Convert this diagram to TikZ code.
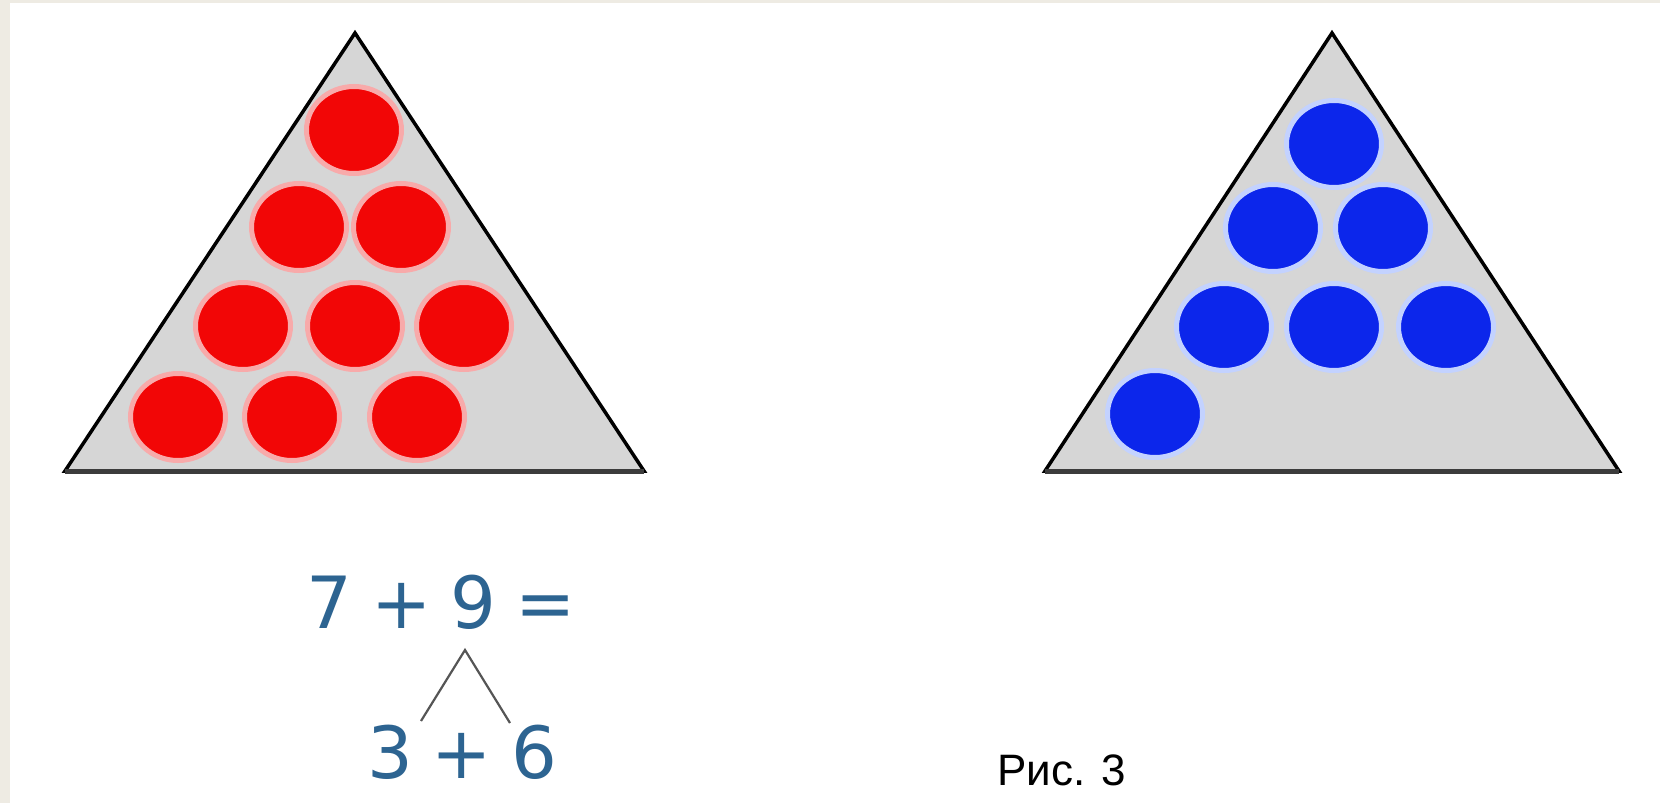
\documentclass[tikz,border=0pt]{standalone}
\usepackage{fontspec}
\setmainfont{Liberation Sans}
\newfontfamily\eqfont{DejaVu Sans}
\definecolor{beige}{RGB}{238,235,227}
\definecolor{trifill}{RGB}{214,214,214}
\definecolor{basecol}{RGB}{60,60,60}
\definecolor{redball}{RGB}{242,6,6}
\definecolor{redhalo}{RGB}{248,170,170}
\definecolor{blueball}{RGB}{12,38,235}
\definecolor{bluehalo}{RGB}{195,210,255}
\definecolor{eqcol}{RGB}{45,100,145}
\definecolor{splitcol}{RGB}{85,85,85}
\newcommand{\eqgap}{\hspace{19pt}}
\tikzset{
  tri/.style={fill=trifill, draw=black, line width=3.5pt, line join=miter},
  basel/.style={draw=basecol, line width=5pt},
  ballbase/.style={ellipse, minimum width=95pt, minimum height=87pt, inner sep=0pt, line width=5pt},
  redb/.style={ballbase, fill=redball, draw=redhalo},
  blueb/.style={ballbase, fill=blueball, draw=bluehalo},
  eqtext/.style={anchor=base, inner sep=0pt, text=eqcol, font=\eqfont\fontsize{72}{84}\selectfont},
  splitline/.style={draw=splitcol, line width=2.2pt},
  caption/.style={anchor=base west, inner sep=0pt, font=\fontsize{44}{53}\selectfont}
}
\usetikzlibrary{shapes.geometric}
\begin{document}
\begin{tikzpicture}[x=1pt, y=-1pt]
\useasboundingbox (0,0) rectangle (1660,803);
\fill[white] (0,0) rectangle (1660,803);
\fill[beige] (0,0) rectangle (10,803);
\fill[beige] (0,0) rectangle (1660,2.5);
% left triangle
\coordinate (LA) at (355,33);
\coordinate (LL) at (65,471);
\coordinate (LR) at (644,471);
\draw[tri] (LA) -- (LR) -- (LL) -- cycle;
\draw[basel] (LL) -- (LR);
% right triangle
\coordinate (RA) at (1332,33);
\coordinate (RL) at (1045,471);
\coordinate (RR) at (1619,471);
\draw[tri] (RA) -- (RR) -- (RL) -- cycle;
\draw[basel] (RL) -- (RR);
% red balls
\node[redb] (r1) at (354,130) {};
\node[redb] (r2) at (299,227) {};
\node[redb] (r3) at (401,227) {};
\node[redb] (r4) at (243,326) {};
\node[redb] (r5) at (355,326) {};
\node[redb] (r6) at (464,326) {};
\node[redb] (r7) at (178,417) {};
\node[redb] (r8) at (292,417) {};
\node[redb] (r9) at (417,417) {};
% blue balls
\node[blueb] (b1) at (1334,144) {};
\node[blueb] (b2) at (1273,228) {};
\node[blueb] (b3) at (1383,228) {};
\node[blueb] (b4) at (1224,327) {};
\node[blueb] (b5) at (1334,327) {};
\node[blueb] (b6) at (1446,327) {};
\node[blueb] (b7) at (1155,414) {};
% equation
\node[eqtext] (eq1) at (441,628) {7\eqgap+\eqgap9\eqgap=};
\node[eqtext] (eq2) at (462,778) {3\eqgap+\eqgap6};
\coordinate (split) at (465,650);
\coordinate (splitL) at (421,721);
\coordinate (splitR) at (510,723);
\draw[splitline] (splitL) -- (split) -- (splitR);
% caption
\node[caption] (cap) at (997,785) {Рис. 3};
\end{tikzpicture}
\end{document}
